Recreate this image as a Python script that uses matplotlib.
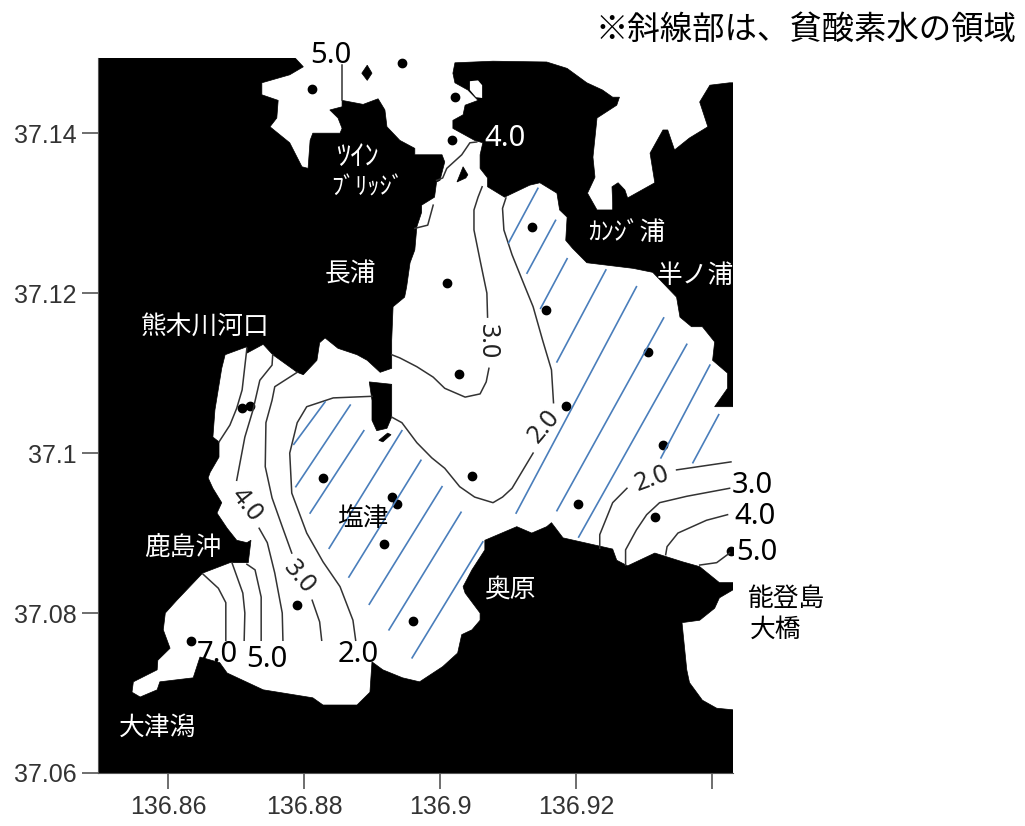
import matplotlib
matplotlib.use("Agg")
import matplotlib.pyplot as plt

plt.rcParams['font.family'] = ['Noto Sans CJK JP', 'DejaVu Sans']

# coast outlines as (lon, lat)
land_main = [(136.8497,37.1494),(136.8787,37.1494),(136.8799,37.1483),(136.8779,37.1473),(136.8738,37.1463),(136.8738,37.1448),
    (136.8762,37.1441),(136.8760,37.1419),(136.8750,37.1408),(136.8779,37.1388),(136.8797,37.1358),(136.8806,37.1356),
    (136.8809,37.1391),(136.8813,37.1400),(136.8853,37.1400),(136.8856,37.1406),(136.8850,37.1419),(136.8838,37.1429),
    (136.8856,37.1433),(136.8856,37.1441),(136.8887,37.1436),(136.8909,37.1443),(136.8919,37.1429),(136.8922,37.1408),
    (136.8941,37.1391),(136.8963,37.1381),(136.8963,37.1373),(136.9003,37.1373),(136.9007,37.1364),(136.9000,37.1341),
    (136.8995,37.1339),(136.8992,37.1320),(136.8973,37.1310),(136.8973,37.1301),(136.8966,37.1283),(136.8963,37.1254),
    (136.8956,37.1238),(136.8951,37.1208),(136.8948,37.1195),(136.8931,37.1183),(136.8929,37.1141),(136.8929,37.1106),
    (136.8912,37.1101),(136.8893,37.1116),(136.8878,37.1123),(136.8850,37.1131),(136.8831,37.1144),(136.8823,37.1138),
    (136.8819,37.1116),(136.8799,37.1098),(136.8790,37.1101),(136.8754,37.1123),(136.8740,37.1136),(136.8716,37.1125),
    (136.8716,37.1133),(136.8684,37.1123),(136.8679,37.1106),(136.8669,37.1054),(136.8666,37.1020),(136.8675,37.1014),
    (136.8675,37.0995),(136.8662,37.0976),(136.8659,37.0969),(136.8666,37.0956),(136.8679,37.0938),(136.8672,37.0925),
    (136.8687,37.0906),(136.8701,37.0891),(136.8716,37.0888),(136.8722,37.0891),(136.8718,37.0863),(136.8691,37.0863),
    (136.8651,37.0850),(136.8632,37.0833),(136.8613,37.0816),(136.8596,37.0800),(136.8593,37.0779),(136.8603,37.0756),
    (136.8585,37.0741),(136.8584,37.0729),(136.8549,37.0714),(136.8547,37.0701),(136.8559,37.0695),(136.8584,37.0704),
    (136.8588,37.0714),(136.8637,37.0719),(136.8647,37.0745),(136.8676,37.0738),(136.8687,37.0725),(136.8740,37.0704),
    (136.8813,37.0694),(136.8828,37.0685),(136.8878,37.0685),(136.8897,37.0701),(136.8900,37.0739),(136.8916,37.0729),
    (136.8945,37.0719),(136.8970,37.0714),(136.9004,37.0733),(136.9026,37.0750),(136.9032,37.0773),(136.9047,37.0779),
    (136.9059,37.0791),(136.9059,37.0800),(136.9037,37.0825),(136.9034,37.0833),(136.9047,37.0854),(136.9066,37.0879),
    (136.9066,37.0891),(136.9113,37.0908),(136.9135,37.0900),(136.9157,37.0908),(136.9164,37.0913),(136.9181,37.0894),
    (136.9254,37.0880),(136.9260,37.0866),(136.9276,37.0859),(136.9316,37.0875),(136.9357,37.0864),(136.9382,37.0858),
    (136.9411,37.0838),(136.9431,37.0838),(136.9431,37.0829),(136.9411,37.0819),(136.9404,37.0806),(136.9382,37.0791),
    (136.9356,37.0788),(136.9363,37.0729),(136.9367,37.0713),(136.9386,37.0691),(136.9407,37.0681),(136.9431,37.0679),
    (136.9431,37.0600),(136.8497,37.0600)]

land_north_east = [(136.9022,37.1488),(136.9078,37.1490),(136.9157,37.1489),(136.9187,37.1481),(136.9216,37.1463),(136.9239,37.1454),
    (136.9254,37.1445),(136.9264,37.1445),(136.9260,37.1435),(136.9231,37.1419),(136.9225,37.1370),(136.9228,37.1345),
    (136.9217,37.1325),(136.9231,37.1304),(136.9254,37.1304),(136.9254,37.1313),(136.9253,37.1333),(136.9262,37.1338),
    (136.9272,37.1329),(136.9276,37.1319),(136.9316,37.1338),(136.9309,37.1375),(136.9328,37.1404),(136.9335,37.1404),
    (136.9345,37.1379),(136.9367,37.1394),(136.9394,37.1408),(136.9382,37.1439),(136.9397,37.1460),(136.9426,37.1463),
    (136.9431,37.1463),(136.9431,37.1058),(136.9404,37.1058),(136.9423,37.1081),(136.9423,37.1100),(136.9401,37.1116),
    (136.9404,37.1139),(136.9386,37.1158),(136.9370,37.1158),(136.9353,37.1170),(136.9348,37.1195),(136.9313,37.1226),
    (136.9284,37.1231),(136.9216,37.1238),(136.9195,37.1256),(136.9185,37.1266),(136.9187,37.1295),(136.9176,37.1304),
    (136.9172,37.1325),(136.9147,37.1338),(136.9132,37.1335),(136.9095,37.1320),(136.9070,37.1333),(136.9070,37.1344),
    (136.9059,37.1356),(136.9059,37.1373),(136.9063,37.1388),(136.9051,37.1391),(136.9019,37.1406),(136.9019,37.1416),
    (136.9034,37.1423),(136.9037,37.1435),(136.9056,37.1441),(136.9041,37.1454),(136.9022,37.1463),(136.9019,37.1475)]

pond = [(136.9062,37.1444),(136.9062,37.1460),(136.9056,37.1466),(136.9044,37.1465),(136.9044,37.1454),(136.9053,37.1445)]
island_mid = [(136.8896,37.1089),(136.8929,37.1086),(136.8929,37.1045),(136.8922,37.1031),(136.8907,37.1028),(136.8900,37.1041),(136.8900,37.1066)]
islet_north = [(136.9025,37.1339),(136.9034,37.1358),(136.9041,37.1348),(136.9038,37.1344)]
islet_top = [(136.8893,37.1485),(136.8900,37.1475),(136.8893,37.1466),(136.8885,37.1475)]
islet_small = [(136.8910,37.1016),(136.8923,37.1025),(136.8928,37.1023),(136.8916,37.1014)]

station_lon = [136.8812,136.8944,136.9022,136.9018,136.9135,136.9010,136.9156,136.9028,136.9185,136.9306,136.9328,136.9047,
    136.9203,136.9316,136.9428,136.8960,136.8828,136.8929,136.8937,136.8918,136.8790,136.8634,136.8709,136.8721]
station_lat = [37.1455,37.1488,37.1445,37.1391,37.1283,37.1213,37.1179,37.1099,37.1059,37.1126,37.1010,37.0971,
    37.0936,37.0920,37.0878,37.0790,37.0969,37.0945,37.0936,37.0886,37.0810,37.0765,37.1056,37.1059]

# DO contours, broken where the labels sit
c50_top = [(136.8856,37.1485),(136.8856,37.1441)]
c40_north_a = [(136.9054,37.1389),(136.9044,37.1388),(136.9032,37.1373),(136.9010,37.1356),(136.9004,37.1344),(136.8995,37.1341)]
c40_north_b = [(136.8990,37.1310),(136.8982,37.1285),(136.8963,37.1281)]
c30_north_a = [(136.9062,37.1333),(136.9056,37.1320),(136.9050,37.1304),(136.9050,37.1279),(136.9059,37.1241),(136.9069,37.1200),(136.9070,37.1170)]
c30_north_b = [(136.9072,37.1106),(136.9068,37.1089),(136.9059,37.1074),(136.9037,37.1070),(136.9007,37.1081),(136.8990,37.1095),(136.8966,37.1108),(136.8941,37.1119),(136.8929,37.1123)]
c20_main_a = [(136.9097,37.1319),(136.9092,37.1306),(136.9094,37.1279),(136.9106,37.1248),(136.9125,37.1208),(136.9137,37.1183),(136.9151,37.1141),(136.9164,37.1104),(136.9167,37.1063)]
c20_main_b = [(136.9137,37.1000),(136.9125,37.0983),(136.9106,37.0956),(136.9092,37.0945),(136.9078,37.0938),(136.9051,37.0945),(136.9029,37.0958),(136.9007,37.0981),(136.8988,37.0994),(136.8966,37.1013),(136.8944,37.1038),(136.8929,37.1045)]
c20_west = [(136.8900,37.1071),(136.8843,37.1069),(136.8804,37.1058),(136.8790,37.1038),(136.8779,37.1000),(136.8782,37.0950),(136.8804,37.0900),(136.8828,37.0864),(136.8853,37.0833),(136.8872,37.0791),(136.8876,37.0766)]
c30_west_a = [(136.8790,37.1101),(136.8757,37.1083),(136.8753,37.1066),(136.8744,37.1038),(136.8743,37.0983),(136.8753,37.0944),(136.8768,37.0908),(136.8782,37.0875)]
c30_west_b = [(136.8812,37.0816),(136.8823,37.0789),(136.8826,37.0766)]
c40_west_a = [(136.8754,37.1123),(136.8753,37.1110),(136.8735,37.1091),(136.8725,37.1054),(136.8713,37.1020),(136.8701,37.0966)]
c40_west_b = [(136.8734,37.0906),(136.8746,37.0888),(136.8757,37.0850),(136.8768,37.0800),(136.8769,37.0766)]
c50_west = [(136.8716,37.1131),(136.8709,37.1079),(136.8701,37.1056),(136.8691,37.1035),(136.8675,37.1014)]
c50_south = [(136.8716,37.0861),(136.8728,37.0854),(136.8737,37.0820),(136.8737,37.0766)]
c60_south = [(136.8694,37.0863),(136.8710,37.0825),(136.8713,37.0800),(136.8712,37.0766)]
c70_south = [(136.8651,37.0849),(136.8674,37.0831),(136.8685,37.0813),(136.8685,37.0766)]
c20_east_a = [(136.9275,37.0956),(136.9254,37.0938),(136.9235,37.0898),(136.9235,37.0881)]
c20_east_b = [(136.9348,37.0979),(136.9428,37.0989)]
c30_east = [(136.9273,37.0860),(136.9273,37.0879),(136.9289,37.0904),(136.9304,37.0923),(136.9323,37.0938),(136.9363,37.0946),(136.9426,37.0956)]
c40_east = [(136.9332,37.0873),(136.9334,37.0883),(136.9350,37.0900),(136.9392,37.0916),(136.9423,37.0923)]
c50_east = [(136.9382,37.0860),(136.9407,37.0863),(136.9426,37.0875)]
contours = [c50_top,c40_north_a,c40_north_b,c30_north_a,c30_north_b,c20_main_a,c20_main_b,c20_west,c30_west_a,c30_west_b,
    c40_west_a,c40_west_b,c50_west,c50_south,c60_south,c70_south,c20_east_a,c20_east_b,c30_east,c40_east,c50_east]

# hatching of the low oxygen area: start and end of every stroke
hatch_lon0 = [136.9144,136.9170,136.9187,136.9244,136.9289,136.9329,136.9363,136.9397,136.9410,
    136.8831,136.8868,136.8888,136.8944,136.8972,136.9003,136.9031,136.9063]
hatch_lat0 = [37.1331,37.1291,37.1243,37.1229,37.1208,37.1169,37.1136,37.1110,37.1048,
    37.1064,37.1060,37.1028,37.1028,37.0991,37.0958,37.0926,37.0889]
hatch_lon1 = [136.9101,136.9128,136.9148,136.9172,136.9112,136.9172,136.9204,136.9325,136.9372,
    136.8785,136.8788,136.8809,136.8837,136.8866,136.8896,136.8925,136.8959]
hatch_lat1 = [37.1263,37.1225,37.1181,37.1114,37.0925,37.0928,37.0895,37.0994,37.0988,
    37.1011,37.0958,37.0925,37.0881,37.0845,37.0811,37.0779,37.0744]

x_ticks = [136.86,136.88,136.90,136.92,136.94]
x_labels = ['136.86','136.88','136.9','136.92','']
y_ticks = [37.06,37.08,37.10,37.12,37.14]
y_labels = ['37.06','37.08','37.1','37.12','37.14']

black_labels = [('5.0',136.8840,37.1497),('3.0',136.9460,37.0960),('4.0',136.9463,37.0921),('5.0',136.9466,37.0876),
    ('7.0',136.8672,37.0748),('5.0',136.8746,37.0742),('2.0',136.8879,37.0748)]
line_labels = [('3.0',136.9070,37.1139,-90),('4.0',136.8716,37.0935,-52),('3.0',136.8793,37.0845,-50),
    ('2.0',136.9153,37.1033,50),('2.0',136.9312,37.0968,20)]
white_places = [('熊木川河口',136.8654,37.1158),('長浦',136.8868,37.1223),('半ノ浦',136.9376,37.1222),
    ('鹿島沖',136.8621,37.0882),('大津潟',136.8585,37.0657),('奥原',136.9103,37.0829)]
small_places = [('ﾂｲﾝ',136.8879,37.1370,20.5),('ﾌﾞﾘｯｼﾞ',136.8894,37.1332,17.5),('ｶﾝｼﾞ浦',136.9275,37.1275,18.5)]
black_places = [('塩津',136.8887,37.0917),('能登島',136.9510,37.0818),('大橋',136.9493,37.0779)]


fig = plt.figure(figsize=(10.25, 8.26), dpi=100)
ax = fig.add_axes([98/1025, 53/826, 635/1025, 715/826])
ax.set_xlim(136.8497, 136.9431)
ax.set_ylim(37.06, 37.1494)

for poly in [land_main, land_north_east, island_mid, islet_north, islet_top, islet_small]:
    ax.fill([p[0] for p in poly], [p[1] for p in poly], color='black', lw=0.5, zorder=2)
ax.fill([p[0] for p in pond], [p[1] for p in pond], color='white', lw=0, zorder=3)
ax.plot(station_lon, station_lat, ls='none', marker='o', ms=6, color='black', zorder=4)

for line in contours:
    ax.plot([p[0] for p in line], [p[1] for p in line], color='#333333', lw=1.1, zorder=5)
for i in range(len(hatch_lon0)):
    ax.plot([hatch_lon0[i], hatch_lon1[i]], [hatch_lat0[i], hatch_lat1[i]], color='#4a7ebb', lw=1.2, zorder=5)

for s, x, y in black_labels:
    ax.text(x, y, s, fontsize=21, family='Noto Sans', color='black', ha='center', va='center', zorder=6)
ax.text(136.9095, 37.1393, '4.0', fontsize=21, family='Noto Sans', color='white', ha='center', va='center', zorder=6)
for s, x, y, r in line_labels:
    ax.text(x, y, s, fontsize=18, family='Noto Sans', color='#222222', rotation=r, rotation_mode='anchor',
            ha='center', va='center', zorder=6)
for s, x, y in white_places:
    ax.text(x, y, s, fontsize=18.5, color='white', ha='center', va='center', zorder=6)
for s, x, y, fs in small_places:
    ax.text(x, y, s, fontsize=fs, color='white', ha='center', va='center', zorder=6)
for s, x, y in black_places:
    ax.text(x, y, s, fontsize=18.5, color='black', ha='center', va='center', zorder=6)
ax.text(136.9538, 37.1529, '※斜線部は、貧酸素水の領域', fontsize=23.3, color='black', ha='center', va='center')

ax.set_xticks(x_ticks)
ax.set_xticklabels(x_labels, fontsize=18, family='Liberation Sans', color='#333333')
ax.set_yticks(y_ticks)
ax.set_yticklabels(y_labels, fontsize=18, family='Liberation Sans', color='#333333')
ax.tick_params(length=11.5, width=1.2, color='#555555', pad=4)
ax.spines['top'].set_visible(False)
ax.spines['right'].set_visible(False)
ax.spines['left'].set_color('#555555')
ax.spines['bottom'].set_color('#555555')

plt.savefig("out.png", dpi=100)
